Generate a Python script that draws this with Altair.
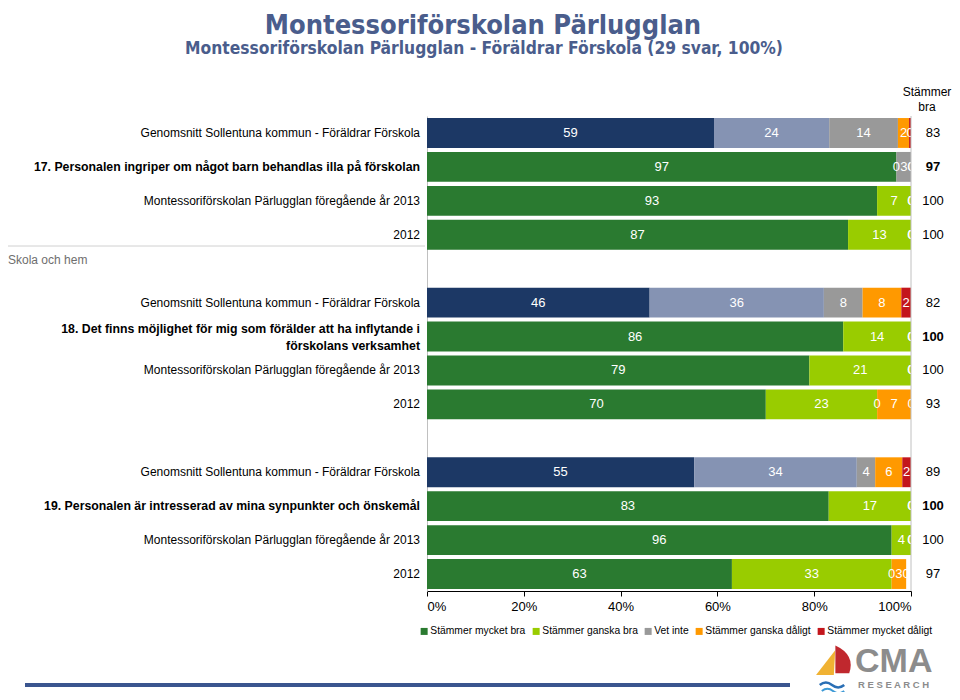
import altair as alt
import pandas as pd

# ---------------- data ----------------
categories = ["Stämmer mycket bra", "Stämmer ganska bra", "Vet inte",
              "Stämmer ganska dåligt", "Stämmer mycket dåligt"]

row_labels = [
    "Genomsnitt Sollentuna kommun - Föräldrar Förskola",
    "17. Personalen ingriper om något barn behandlas illa på förskolan",
    "Montessoriförskolan Pärlugglan föregående år 2013",
    "2012",
    "Genomsnitt Sollentuna kommun - Föräldrar Förskola",
    "18. Det finns möjlighet för mig som förälder att ha inflytande i\nförskolans verksamhet",
    "Montessoriförskolan Pärlugglan föregående år 2013",
    "2012",
    "Genomsnitt Sollentuna kommun - Föräldrar Förskola",
    "19. Personalen är intresserad av mina synpunkter och önskemål",
    "Montessoriförskolan Pärlugglan föregående år 2013",
    "2012",
]
row_types = ["avg", "q", "prev", "prev"] * 3

mycket_bra    = [59.3, 97, 93, 87,  46, 86, 79, 70,  55.2, 83, 96, 63]
ganska_bra    = [23.8,  0,  7, 13,  36, 14, 21, 23,  33.6, 17,  4, 33]
vet_inte      = [14.2,  3,  0,  0,   8,  0,  0,  0,   3.8,  0,  0,  0]
ganska_daligt = [ 2.3,  0,  0,  0,   8,  0,  0,  7,   5.6,  0,  0,  3]
mycket_daligt = [ 0.4,  0,  0,  0,   2,  0,  0,  0,   1.8,  0,  0,  0]
stammer_bra   = ["83", "97", "100", "100",  "82", "100", "100", "93",  "89", "100", "100", "97"]

series = [mycket_bra, ganska_bra, vet_inte, ganska_daligt, mycket_daligt]
x_ticks = [0, 20, 40, 60, 80, 100]

title_text = "Montessoriförskolan Pärlugglan"
subtitle_text = "Montessoriförskolan Pärlugglan - Föräldrar Förskola (29 svar, 100%)"
section_text = "Skola och hem"
header_lines = ["Stämmer", "bra"]

# ---------------- tables ----------------
row_ids = [f"r{i}" for i in range(12)]
y_domain = row_ids[0:4] + ["g0"] + row_ids[4:8] + ["g1"] + row_ids[8:12]

recs = []
for i in range(12):
    for k, c in enumerate(categories):
        recs.append(dict(row=row_ids[i], cat=c, ord=k, value=series[k][i], type=row_types[i]))
df = pd.DataFrame(recs)
rows_df = pd.DataFrame(dict(row=row_ids, label=row_labels, type=row_types, bra=stammer_bra))
one = pd.DataFrame({"d": [0]})

colors = ["#2a7a30", "#99cc00", "#999999", "#ff9900", "#c3161c"]
avg_colors = ["#1c3865", "#8593b3", "#999999", "#ff9900", "#c3161c"]

W, H = 484, 475
FONT = "Liberation Sans"
NARROW = "Liberation Sans Narrow, Arial Narrow, DejaVu Sans Condensed, Liberation Sans"

yscale = alt.Scale(domain=y_domain, paddingInner=0.12, paddingOuter=0.06)
xscale = alt.Scale(domain=[0, 100], nice=False)

base = alt.Chart(df).transform_stack(
    stack="value", groupby=["row"], as_=["x0", "x1"],
    sort=[alt.SortField("ord", order="ascending")]
).transform_calculate(
    mid="(datum.x0 + datum.x1) / 2",
    lbl="format(datum.value, '.0f')"
)

bars = base.transform_filter("datum.type != 'avg'").mark_bar().encode(
    y=alt.Y("row:N", scale=yscale,
            axis=alt.Axis(labels=False, ticks=False, title=None, domainColor="#c0c0c0", grid=False)),
    x=alt.X("x0:Q", scale=xscale,
            axis=alt.Axis(orient="bottom", values=x_ticks, labelExpr="datum.value + '%'", title=None,
                          grid=False, domainColor="#000000", tickColor="#000000", tickSize=5,
                          labelFontSize=13, labelFont=FONT, labelColor="#000000", labelPadding=4)),
    x2="x1:Q",
    color=alt.Color("cat:N", scale=alt.Scale(domain=categories, range=colors),
                    legend=alt.Legend(orient="none", legendX=-8, legendY=510, direction="horizontal",
                                      columns=5, title=None, symbolType="square", symbolSize=49,
                                      symbolStrokeWidth=0, labelFontSize=10.3, labelFont=FONT,
                                      labelColor="#000000", columnPadding=5, labelOffset=1)),
    order=alt.Order("ord:Q"),
)

avg_bars = base.transform_filter("datum.type == 'avg'").mark_bar().encode(
    y=alt.Y("row:N", scale=yscale),
    x=alt.X("x0:Q", scale=xscale),
    x2="x1:Q",
    color=alt.Color("cat:N", scale=alt.Scale(domain=categories, range=avg_colors), legend=None),
    order=alt.Order("ord:Q"),
)

seg_labels = base.mark_text(color="white", fontSize=13, font=FONT, clip=True, baseline="middle").encode(
    x=alt.X("mid:Q", scale=xscale),
    y=alt.Y("row:N", scale=yscale),
    text="lbl:N",
)

right_rule = alt.Chart(one).mark_rule(color="#c0c0c0").encode(
    x=alt.datum(100), y=alt.value(0), y2=alt.value(H)
)


def row_text(weight, cond, **kw):
    return alt.Chart(rows_df).transform_filter(cond).mark_text(
        baseline="middle", font=FONT, color="#000000", fontWeight=weight, **kw)


multi = "indexof(datum.label, '\\n') >= 0"
left_norm = row_text("normal", "datum.type != 'q'", align="right", fontSize=12).encode(
    x=alt.value(-7), y=alt.Y("row:N", scale=yscale), text="label:N")
left_bold = row_text("bold", f"datum.type == 'q' && !({multi})", align="right", fontSize=12.3).encode(
    x=alt.value(-7), y=alt.Y("row:N", scale=yscale), text="label:N")
left_bold2 = row_text("bold", f"datum.type == 'q' && ({multi})", align="right", fontSize=12.3,
                      lineBreak="\n", lineHeight=17, dy=-8).encode(
    x=alt.value(-7), y=alt.Y("row:N", scale=yscale), text="label:N")
right_norm = row_text("normal", "datum.type != 'q'", align="center", fontSize=13).encode(
    x=alt.value(506), y=alt.Y("row:N", scale=yscale), text="bra:N")
right_bold = row_text("bold", "datum.type == 'q'", align="center", fontSize=13).encode(
    x=alt.value(506), y=alt.Y("row:N", scale=yscale), text="bra:N")

header1 = alt.Chart(one).mark_text(align="center", baseline="middle", fontSize=12,
                                   font=FONT, color="#000000", text=header_lines[0]).encode(
    x=alt.value(500), y=alt.value(-24)
)
header2 = alt.Chart(one).mark_text(align="center", baseline="middle", fontSize=12,
                                   font=FONT, color="#000000", text=header_lines[1]).encode(
    x=alt.value(500), y=alt.value(-9)
)

title = alt.Chart(one).mark_text(align="center", baseline="middle", fontSize=27, fontWeight="bold",
                                 font=NARROW, color="#4a5d8c", text=title_text).encode(
    x=alt.value(56), y=alt.value(-90)
)
subtitle = alt.Chart(one).mark_text(align="center", baseline="middle", fontSize=17.3, fontWeight="bold",
                                    font=NARROW, color="#4a5d8c", text=subtitle_text).encode(
    x=alt.value(57), y=alt.value(-67)
)

section_rule = alt.Chart(one).mark_rule(color="#d0d0d0").encode(
    x=alt.value(-419), x2=alt.value(-2), y=alt.value(130)
)
section = alt.Chart(one).mark_text(align="left", baseline="middle", fontSize=12, font=FONT,
                                   color="#6e6e6e", text=section_text).encode(
    x=alt.value(-419), y=alt.value(144)
)

bottom_line = alt.Chart(one).mark_rule(color="#3a558f", strokeWidth=4).encode(
    x=alt.value(-402), x2=alt.value(363), y=alt.value(569)
)
cma = alt.Chart(one).mark_text(align="left", baseline="middle", fontSize=34, fontWeight="bold",
                               font=FONT, color="#8c8c8c", text="CMA").encode(
    x=alt.value(428), y=alt.value(546)
)
research = alt.Chart(one).mark_text(align="left", baseline="middle", fontSize=9.5, fontWeight="bold",
                                    font=FONT, color="#8c8c8c", text="R E S E A R C H").encode(
    x=alt.value(431), y=alt.value(569)
)
sail_red = alt.Chart(one).mark_point(shape="M -0.3 -1 Q 1 -0.4 0.6 0.8 L -0.3 0.8 Z", filled=True,
                                     color="#c0282e", opacity=1, size=950).encode(
    x=alt.value(413), y=alt.value(545)
)
sail_yellow = alt.Chart(one).mark_point(shape="M 0.6 -1 L -0.8 0.8 L 0.5 0.8 Z", filled=True,
                                        color="#f0b233", opacity=1, size=750).encode(
    x=alt.value(400), y=alt.value(548)
)
wave1 = alt.Chart(one).mark_point(shape="M -1 0 Q -0.5 -0.4 0 0 Q 0.5 0.4 1 0", filled=False,
                                  color="#2a6fb5", opacity=1, size=600, strokeWidth=2.5).encode(
    x=alt.value(405), y=alt.value(569)
)
wave2 = alt.Chart(one).mark_point(shape="M -1 0 Q -0.5 -0.4 0 0 Q 0.5 0.4 1 0", filled=False,
                                  color="#3d9ad6", opacity=1, size=500, strokeWidth=2).encode(
    x=alt.value(406), y=alt.value(575)
)

chart = alt.layer(
    avg_bars, bars, seg_labels, right_rule, left_norm, left_bold, left_bold2, right_norm, right_bold,
    header1, header2, title, subtitle, section_rule, section, bottom_line, cma, research,
    sail_yellow, sail_red, wave1, wave2
).resolve_scale(color="independent").properties(
    width=W, height=H,
    padding={"left": 419, "top": 108, "right": 41, "bottom": 101},
    autosize=alt.AutoSizeParams(type="none"),
    background="white",
).configure_view(stroke=None)

chart.save("out.html", embed_options={"renderer": "svg", "actions": False})
